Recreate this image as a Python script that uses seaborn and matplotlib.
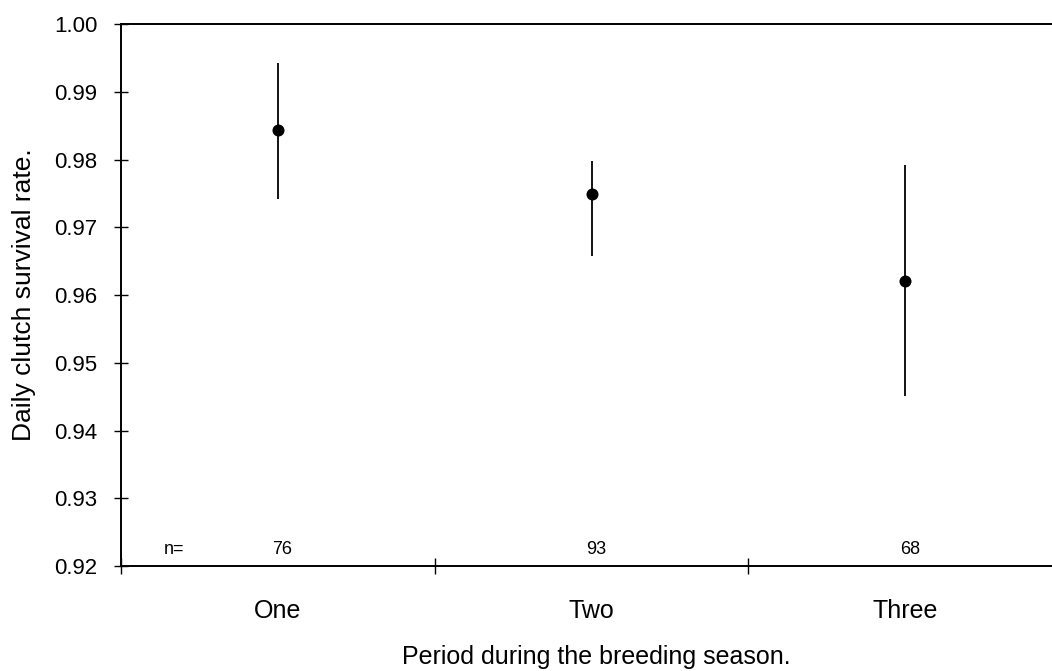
import matplotlib
matplotlib.use("Agg")
import matplotlib.pyplot as plt
import seaborn as sns
import pandas as pd

# Daily clutch survival per period, with confidence limits and sample sizes
periods = ["One", "Two", "Three"]
survival = [0.9844, 0.9749, 0.9621]
lower = [0.9742, 0.9657, 0.9451]
upper = [0.9942, 0.9798, 0.9792]
n_clutches = [76, 93, 68]
y_ticks = [0.92, 0.93, 0.94, 0.95, 0.96, 0.97, 0.98, 0.99, 1.00]

sns.set_theme(style="white")
plt.rcParams["font.family"] = ["Liberation Sans", "DejaVu Sans"]
plt.rcParams["text.color"] = "black"
plt.rcParams["xtick.color"] = "black"
plt.rcParams["ytick.color"] = "black"
plt.rcParams["axes.labelcolor"] = "black"

df = pd.DataFrame({"period": periods, "survival": survival,
                   "lower": lower, "upper": upper, "n": n_clutches})
df["pos"] = range(len(df))

fig = plt.figure(figsize=(10.52, 6.71), dpi=100)
ax = fig.add_axes([121 / 1052, 105 / 671, (1062 - 121) / 1052, (566 - 24) / 671])

ax.vlines(df["pos"], df["lower"], df["upper"], color="black", linewidth=1.3, zorder=2)
sns.scatterplot(data=df, x="pos", y="survival", color="black", s=75,
                edgecolor="black", linewidth=0, ax=ax, zorder=3, legend=False)

ax.set_xlim(-0.5, 2.5)
ax.set_ylim(0.92, 1.00)
ax.set_yticks(y_ticks)
ax.set_yticklabels([f"{v:.2f}" for v in y_ticks], fontsize=16)

# group separators as major ticks, period names centred as minor labels
ax.set_xticks([-0.5, 0.5, 1.5, 2.5])
ax.set_xticklabels([])
ax.set_xticks(df["pos"], minor=True)
ax.set_xticklabels(periods, minor=True, fontsize=18)
ax.tick_params(axis="x", which="major", bottom=True, direction="inout",
               length=12, width=1, color="black")
ax.tick_params(axis="x", which="minor", bottom=True, length=0, pad=24)
ax.tick_params(axis="y", left=True, direction="inout", length=10, width=1,
               color="black", pad=12)

for side in ["left", "bottom", "top"]:
    ax.spines[side].set_visible(True)
    ax.spines[side].set_color("black")
    ax.spines[side].set_linewidth(1.4)
ax.spines["right"].set_visible(False)

# sample sizes along the bottom of the plot
ax.text(-0.33, 0.9212, "n=", fontsize=13, ha="center", va="bottom")
for p, n in zip(df["pos"], df["n"]):
    ax.text(p + 0.015, 0.9212, str(n), fontsize=13, ha="center", va="bottom")

ax.set_xlabel("Period during the breeding season.", fontsize=18)
ax.set_ylabel("Daily clutch survival rate.", fontsize=19)
ax.xaxis.set_label_coords((596 - 121) / (1062 - 121), -0.145)
ax.yaxis.set_label_coords(-(121 - 36) / (1062 - 121), 0.5)

fig.savefig("out.png", dpi=100)
